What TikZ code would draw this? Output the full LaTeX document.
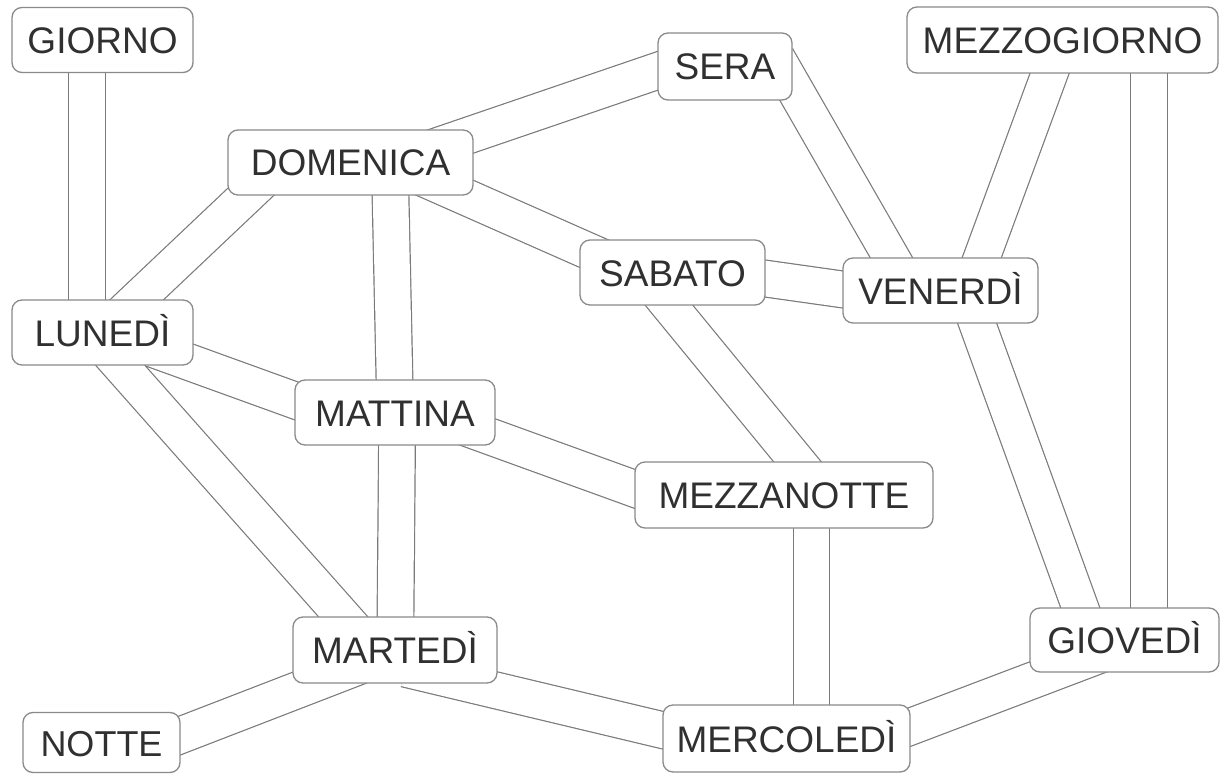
\documentclass[tikz,border=0pt]{standalone}
\usepackage{fontspec}
\setmainfont{Liberation Sans}
\usetikzlibrary{calc,backgrounds}
\pgfdeclarelayer{bottom}
\pgfsetlayers{bottom,background,main}
\definecolor{linegray}{HTML}{7A7A7A}
\definecolor{boxgray}{HTML}{8A8A8A}
\definecolor{txtgray}{HTML}{303030}
\tikzset{
  box/.style={draw=boxgray, line width=1.3pt, rounded corners=10pt, fill=white,
    minimum height=65pt, inner sep=0pt, text height=27pt, text depth=0pt,
    font=\fontsize{37}{40}\selectfont, text=txtgray},
  band/.style={draw=linegray, line width=1.2pt, double=white, double distance=35.5pt,
    shorten <=-40pt, shorten >=-40pt}
}
\begin{document}
\begin{tikzpicture}[x=1pt,y=-1pt]
\begin{pgfonlayer}{bottom}
\fill[white] (0,0) rectangle (1221,778);
\end{pgfonlayer}
\useasboundingbox (0,0) rectangle (1221,778);
% nodes
\node[box, minimum width=181pt] (giorno) at (102.5,40) {GIORNO};
\node[box, minimum width=245pt] (domenica) at (350.5,162.5) {DOMENICA};
\node[box, minimum width=181pt] (lunedi) at (102.5,332.5) {LUNEDÌ};
\node[box, minimum width=134pt, minimum height=67pt] (sera) at (725,66.5) {SERA};
\node[box, minimum width=185pt] (sabato) at (672.5,272.5) {SABATO};
\node[box, minimum width=311pt, minimum height=66pt] (mezzogiorno) at (1062.5,40) {MEZZOGIORNO};
\node[box, minimum width=195pt] (venerdi) at (940.5,290.5) {VENERDÌ};
\node[box, minimum width=200pt] (mattina) at (395,412.5) {MATTINA};
\node[box, minimum width=204pt, minimum height=66pt] (martedi) at (395,650) {MARTEDÌ};
\node[box, minimum width=157pt, minimum height=60pt, font=\fontsize{36}{40}\selectfont] (notte) at (101.5,742.5) {NOTTE};
\node[box, minimum width=298pt, minimum height=66pt] (mezzanotte) at (784,495) {MEZZANOTTE};
\node[box, minimum width=247pt, minimum height=67pt] (mercoledi) at (786.5,738.5) {MERCOLEDÌ};
\node[box, minimum width=189pt, minimum height=64pt] (giovedi) at (1124.5,640) {GIOVEDÌ};
% bands
\begin{pgfonlayer}{background}
\draw[band] ($(giorno.center)+(-15.5,33)$) -- ($(lunedi.center)+(-15.5,-32.5)$);
\draw[band] ($(domenica.center)+(-102.5,32)$) -- ($(lunedi.center)+(34,-32.5)$);
\draw[band] ($(domenica.center)+(104.5,-22.5)$) -- ($(sera.center)+(-68,4.5)$);
\draw[band] ($(domenica.center)+(96,26)$) -- ($(sabato.center)+(-80,-19.5)$);
\draw[band] ($(domenica.center)+(40,32.5)$) -- ($(mattina.center)+(-0.5,-32.5)$);
\draw[band, shorten <=-20pt] ($(sera.center)+(61.5,8.5)$) -- ($(venerdi.center)+(-49.5,-33.5)$);
\draw[band] ($(mezzogiorno.center)+(-13.5,35)$) -- ($(venerdi.center)+(41.5,-33.5)$);
\draw[band] ($(mezzogiorno.center)+(86.5,33)$) -- ($(giovedi.center)+(24.5,-32)$);
\draw[band] ($(sabato.center)+(92.5,6)$) -- ($(venerdi.center)+(-97.5,-1)$);
\draw[band] ($(sabato.center)+(-4.5,31.5)$) -- ($(mezzanotte.center)+(12,-35)$);
\draw[band] ($(lunedi.center)+(71,24)$) -- ($(mattina.center)+(-98.5,-11.5)$);
\draw[band] ($(lunedi.center)+(17.5,32.5)$) -- ($(martedi.center)+(-52.5,-34)$);
\draw[band] ($(mattina.center)+(2,32.5)$) -- ($(martedi.center)+(0.5,-33)$);
\draw[band] ($(mattina.center)+(84,20)$) -- ($(mezzanotte.center)+(-149,-6)$);
\draw[band] ($(martedi.center)+(-65,27.5)$) -- ($(notte.center)+(77,-6.5)$);
\draw[band] ($(martedi.center)+(49,28)$) -- ($(mercoledi.center)+(-124.5,-8.5)$);
\draw[band] ($(mezzanotte.center)+(27.5,33)$) -- ($(mercoledi.center)+(25,-33.5)$);
\draw[band] ($(mercoledi.center)+(122,-11)$) -- ($(giovedi.center)+(-60.5,28.5)$);
\draw[band] ($(venerdi.center)+(36.5,32.5)$) -- ($(giovedi.center)+(-44.5,-33)$);
\end{pgfonlayer}
\end{tikzpicture}
\end{document}
